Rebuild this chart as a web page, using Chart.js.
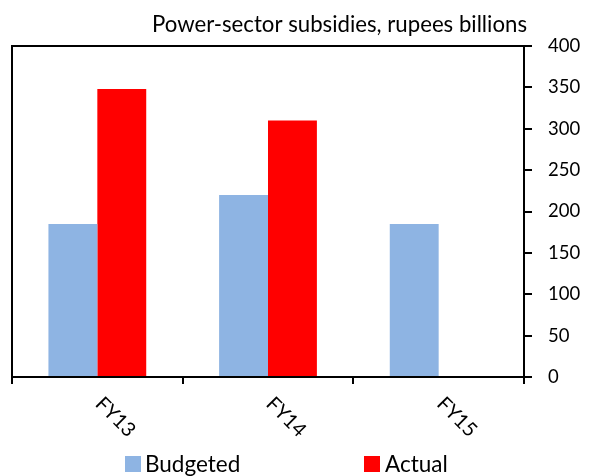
<!DOCTYPE html>
<html>
<head>
<meta charset="utf-8">
<script src="https://cdn.jsdelivr.net/npm/chart.js@4.4.0/dist/chart.umd.min.js"></script>
<style>
  html, body { margin: 0; padding: 0; background: #fff; }
  #wrap { width: 590px; height: 476px; position: relative; }
</style>
</head>
<body>
<div id="wrap"><canvas id="c" width="590" height="476"></canvas></div>
<script>
const categories = ["FY13", "FY14", "FY15"];
const budgeted = [185, 220, 185];
const actual = [348, 310, null];
const yTicks = [0, 50, 100, 150, 200, 250, 300, 350, 400];
const chartTitle = "Power-sector subsidies, rupees billions";
const seriesNames = ["Budgeted", "Actual"];
const seriesColors = ["#8EB4E3", "#FF0000"];

const FONT = "Lato";

const decorPlugin = {
  id: "decor",
  afterDraw(chart) {
    const ctx = chart.ctx;
    const a = chart.chartArea;
    ctx.save();
    // frame
    ctx.strokeStyle = "#000";
    ctx.lineWidth = 2;
    ctx.strokeRect(a.left, a.top, a.right - a.left, a.bottom - a.top);
    // title
    ctx.fillStyle = "#000";
    ctx.font = "22.2px " + FONT;
    ctx.textAlign = "right";
    ctx.textBaseline = "alphabetic";
    ctx.fillText(chartTitle, 527, 32);
    // rotated category labels
    const xs = chart.scales.x;
    ctx.font = "20px " + FONT;
    ctx.textAlign = "left";
    ctx.textBaseline = "alphabetic";
    categories.forEach((lab, i) => {
      const px = xs.getPixelForValue(i);
      ctx.save();
      ctx.translate(px - 3, 405);
      ctx.rotate(Math.PI / 4);
      ctx.fillText(lab, 0, 0);
      ctx.restore();
    });
    // legend
    ctx.font = "22.5px " + FONT;
    const legendPos = [[125, 145], [364, 385]];
    chart.data.datasets.forEach((ds, i) => {
      ctx.fillStyle = ds.backgroundColor;
      ctx.fillRect(legendPos[i][0], 456, 16, 16);
      ctx.fillStyle = "#000";
      ctx.fillText(ds.label, legendPos[i][1], 471.5);
    });
    ctx.restore();
  }
};

new Chart(document.getElementById("c"), {
  type: "bar",
  data: {
    labels: categories,
    datasets: [
      { label: seriesNames[0], data: budgeted, backgroundColor: seriesColors[0], borderWidth: 0 },
      { label: seriesNames[1], data: actual, backgroundColor: seriesColors[1], borderWidth: 0 }
    ]
  },
  options: {
    responsive: false,
    animation: false,
    devicePixelRatio: 1,
    layout: { padding: { left: 12, top: 46, right: 0, bottom: 99 } },
    plugins: { legend: { display: false }, title: { display: false }, tooltip: { enabled: false } },
    datasets: { bar: { categoryPercentage: 0.573, barPercentage: 1.0 } },
    scales: {
      x: {
        offset: true,
        grid: { offset: true, drawOnChartArea: false, drawTicks: true, tickLength: 7, color: "#000", lineWidth: 2 },
        border: { display: true, color: "#000", width: 2 },
        ticks: { display: false },
        afterFit(s) { s.height = 0; }
      },
      y: {
        position: "right",
        min: 0,
        max: 400,
        afterBuildTicks(s) { s.ticks = yTicks.map(v => ({ value: v })); },
        grid: { drawOnChartArea: false, drawTicks: true, tickLength: 8, color: "#000", lineWidth: 2 },
        border: { display: true, color: "#000", width: 2 },
        ticks: { color: "#000", font: { family: FONT, size: 18.5 }, padding: 16 },
        afterFit(s) { s.width = 66; }
      }
    }
  },
  plugins: [decorPlugin]
});
</script>
</body>
</html>
